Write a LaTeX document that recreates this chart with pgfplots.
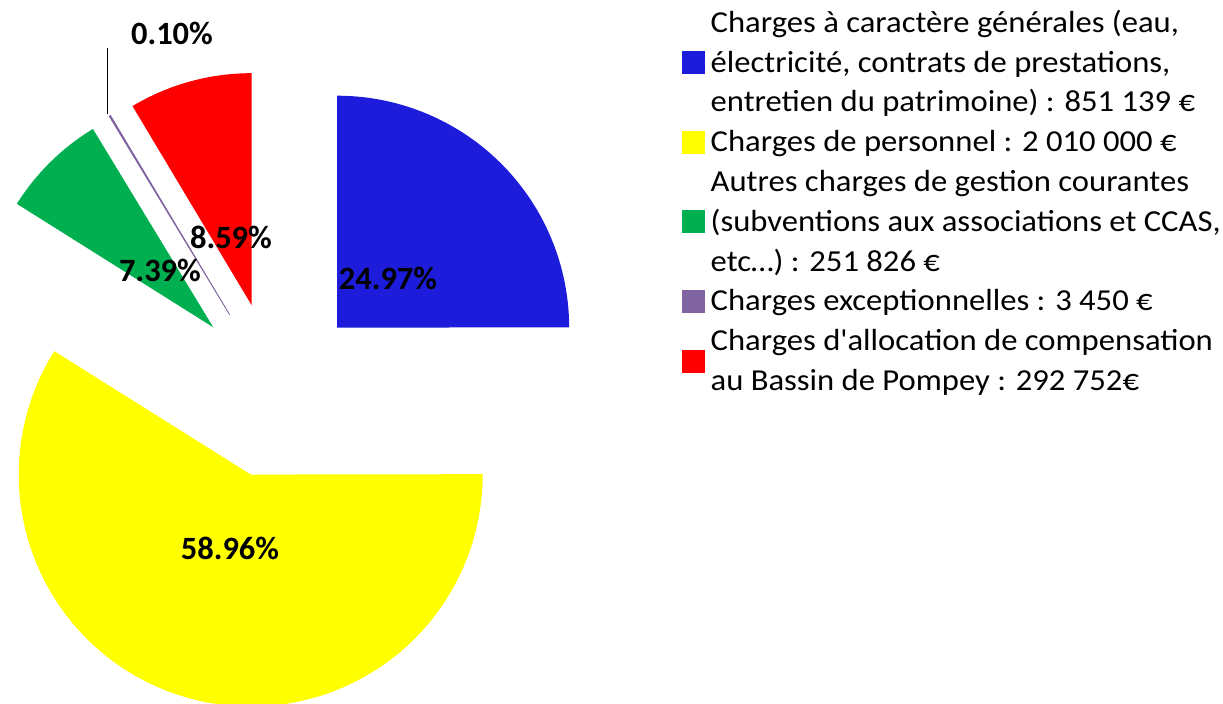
\documentclass[border=0pt]{standalone}
\usepackage{fontspec}
\setmainfont{Carlito}[Ligatures=TeXOff]
\newfontfamily\legfont{Carlito}[Ligatures=TeXOff, FakeStretch=1.07]
\usepackage{pgfplots}
\pgfplotsset{compat=1.18}

\definecolor{cblue}{RGB}{28,28,218}
\definecolor{cyellow}{RGB}{255,255,0}
\definecolor{cgreen}{RGB}{0,176,80}
\definecolor{cpurple}{RGB}{128,100,162}
\definecolor{cred}{RGB}{255,0,0}

% pie geometry (in picture units = bp)
\def\R{232}\def\E{88}\def\Cx{275}\def\Cy{314}
\xdef\curstart{90}
% #1 colour, #2 percentage, #3 extra options
\newcommand\slice[3]{%
  \pgfmathsetmacro\se{\curstart-3.6*#2}%
  \pgfmathsetmacro\sm{(\curstart+\se)/2}%
  \pgfmathsetmacro\sx{\Cx+\E*cos(\sm)}%
  \pgfmathsetmacro\sy{\Cy+\E*sin(\sm)}%
  \edef\doslice{\noexpand\addplot[forget plot,fill=#1,#3,domain=\se:\curstart,samples=90,variable=\noexpand\t]
    ({\sx+\R*cos(\noexpand\t)},{\sy+\R*sin(\noexpand\t)}) -- (axis cs:\sx,\sy) -- cycle;}%
  \doslice
  \xdef\curstart{\se}%
}
\newcommand\noimg{\addlegendimage{legend image code/.code={}}}
\newcommand\img[1]{\addlegendimage{legend image code/.code={\fill[#1] (0bp,-9.3bp) rectangle (22bp,12.7bp);}}}
\newcommand\ent[1]{\addlegendentry{#1}}

\begin{document}
\begin{tikzpicture}
\begin{axis}[
  scale only axis, width=1223bp, height=704bp,
  xmin=0, xmax=1223, ymin=0, ymax=704,
  hide axis, clip=false,
  legend cell align=left,
  legend style={at={(0.5577,0.994)}, anchor=north west, draw=none, fill=none,
    inner sep=0pt, row sep=0pt, column sep=6bp,
    font=\legfont\fontsize{30.5bp}{39.8bp}\selectfont,
    nodes={inner sep=0pt, text height=27.9bp, text depth=11.9bp}, cells={anchor=west}},
]
\slice{cblue}{24.97}{draw=none}
\slice{cyellow}{58.96}{draw=none}
\slice{cgreen}{7.39}{draw=none}
\slice{cpurple}{0.10}{draw=cpurple, line width=0.8bp}
\slice{cred}{8.59}{draw=none}

\noimg\ent{Charges à caractère générales (eau,}
\img{cblue}\ent{électricité, contrats de prestations,}
\noimg\ent{entretien du patrimoine) : 851 139 €}
\img{cyellow}\ent{Charges de personnel : 2 010 000 €}
\noimg\ent{Autres charges de gestion courantes}
\img{cgreen}\ent{(subventions aux associations et CCAS,}
\noimg\ent{etc…) : 251 826 €}
\img{cpurple}\ent{Charges exceptionnelles : 3 450 €}
\noimg\ent{Charges d'allocation de compensation}
\addlegendimage{legend image code/.code={\fill[cred,overlay] (0bp,10.6bp) rectangle (22bp,32.6bp);}}
\ent{au Bassin de Pompey : 292 752€}

\draw[black, line width=1.3bp] (axis cs:107.5,590) -- (axis cs:107.5,656);
\begin{scope}[every node/.style={font=\fontsize{32.5bp}{38bp}\selectfont\bfseries}]
\node at (axis cs:388,426) {24.97\%};
\node at (axis cs:230,156) {58.96\%};
\node at (axis cs:160,434) {7.39\%};
\node at (axis cs:231,467) {8.59\%};
\node at (axis cs:172,671) {0.10\%};
\end{scope}
\end{axis}
\pgfresetboundingbox
\path (current axis.south west) rectangle (current axis.north east);
\end{tikzpicture}
\end{document}
